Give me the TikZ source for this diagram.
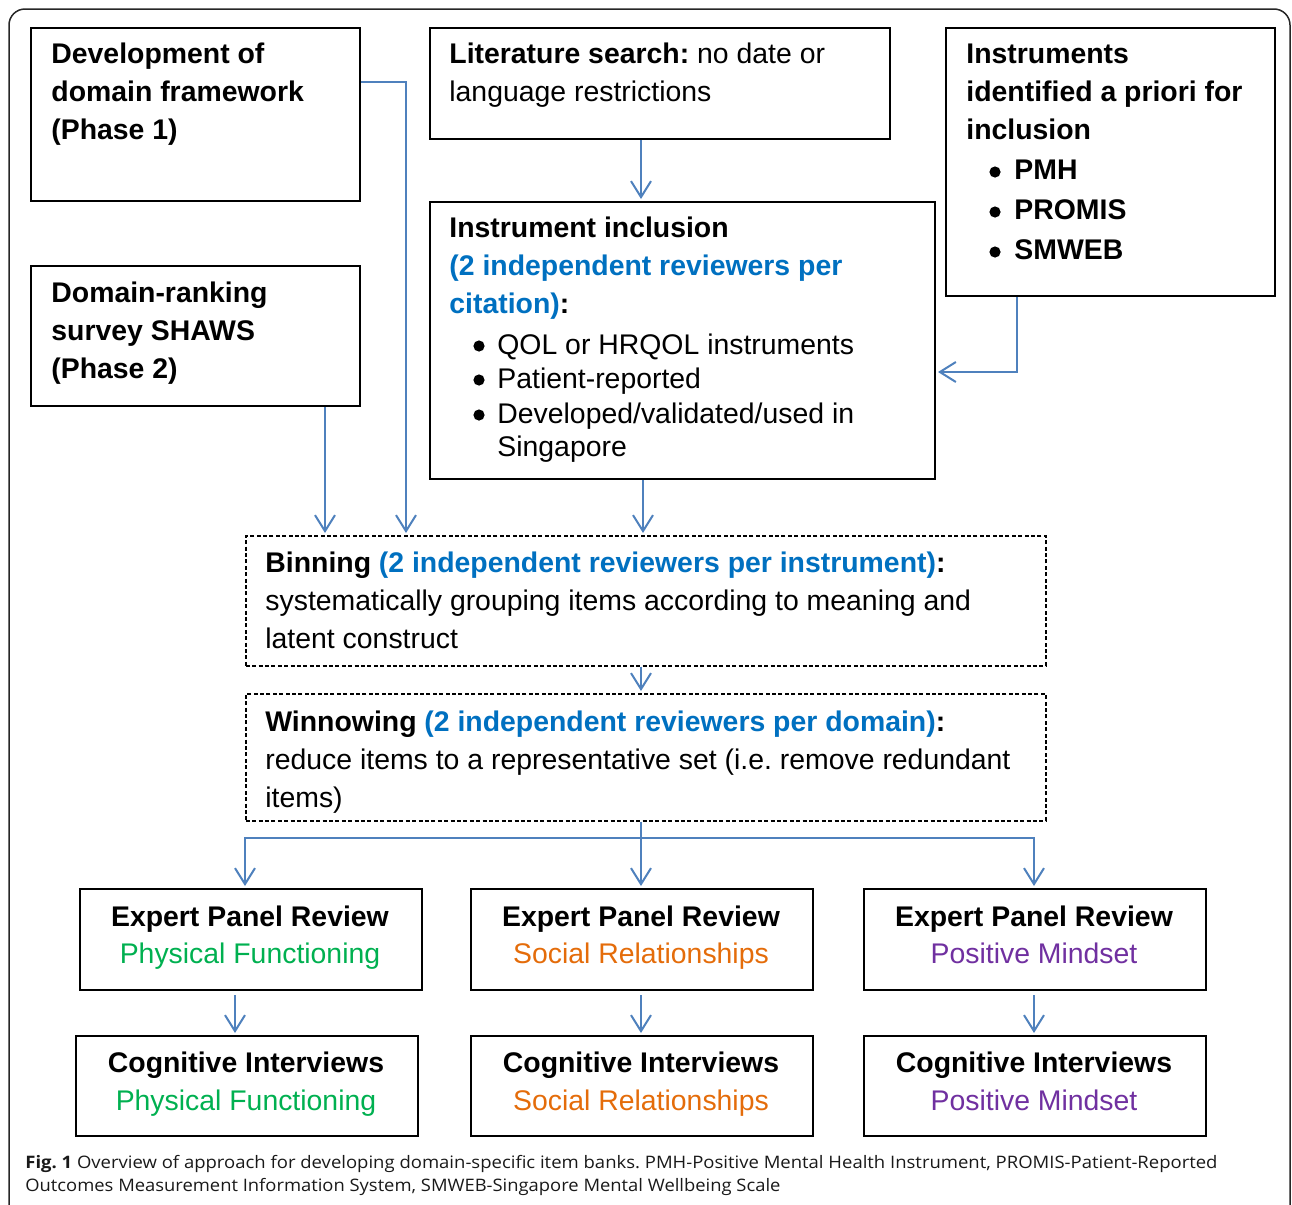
\documentclass[tikz,border=0pt]{standalone}
\usepackage{graphicx}
\usepackage{fontspec}
\setmainfont{Liberation Sans}
\newfontfamily\capfont{Open Sans}
\usetikzlibrary{arrows.meta}
\definecolor{arrblue}{HTML}{4F81BD}
\definecolor{tblue}{HTML}{0070C0}
\definecolor{tgreen}{HTML}{00B050}
\definecolor{torange}{HTML}{E46C0A}
\definecolor{tpurple}{HTML}{7030A0}
\frenchspacing
\newcommand\boxnode[6]{\node[#6, anchor=north west, minimum width={(#4-#2)*0.5pt}, minimum height={(#5-#3)*0.5pt}] (#1) at (#2,#3) {};}
\newcommand\bul{\hspace*{24pt}}
\tikzset{
  box/.style={draw=black, line width=1pt, inner sep=0pt, rectangle},
  dbox/.style={draw=black, line width=0.75pt, inner sep=0pt, rectangle, dash pattern=on 2pt off 1.2pt},
  conn/.style={draw=arrblue, line width=1pt},
  arr/.style={conn, -{Straight Barb[length=8pt,width=10pt,line width=1pt]}, shorten >=1pt},
  txt/.style={inner sep=0pt, align=left, anchor=north west, font=\fontsize{14.2}{19}\selectfont},
  ctxt/.style={txt, align=center, anchor=north},
  captxt/.style={inner sep=0pt, anchor=base west, font=\capfont\fontsize{8.6}{10}\selectfont, text=black!90},
  bulletdot/.style={fill=black}
}
\begin{document}
\begin{tikzpicture}[x=0.5pt,y=-0.5pt]
\useasboundingbox (0,0) rectangle (1292,1205);
\begin{scope}
\clip (0,0) rectangle (1292,1205);
\draw[line width=0.75pt, black!85, rounded corners=8pt] (9,9) rectangle (1290,1260);
\end{scope}

% boxes
\boxnode{dev}{30}{27}{359}{200}{box}
\boxnode{lit}{429}{27}{889}{138}{box}
\boxnode{apri}{945}{27}{1274}{295}{box}
\boxnode{rank}{30}{265}{359}{405}{box}
\boxnode{incl}{429}{201}{934}{478}{box}
\boxnode{bin}{245}{535}{1045}{665}{dbox}
\boxnode{win}{245}{693}{1045}{820}{dbox}
\boxnode{epra}{79}{888}{421}{989}{box}
\boxnode{eprb}{470}{888}{812}{989}{box}
\boxnode{eprc}{863}{888}{1205}{989}{box}
\boxnode{cia}{75}{1035}{417}{1135}{box}
\boxnode{cib}{470}{1035}{812}{1135}{box}
\boxnode{cic}{863}{1035}{1205}{1135}{box}

% texts
\node[txt] (devt) at (51,41) {\rule{0pt}{11pt}\textbf{Development of}\\\textbf{domain framework}\\\textbf{(Phase 1)}};
\node[txt] (litt) at (449,41) {\rule{0pt}{11pt}\textbf{Literature search:} no date or\\language restrictions};
\node[txt] (aprit) at (966,41) {\rule{0pt}{11pt}\textbf{Instruments}\\\textbf{identified a priori for}\\\textbf{inclusion}\\[1pt]\bul\textbf{PMH}\\[1pt]\bul\textbf{PROMIS}\\[1pt]\bul\textbf{SMWEB}};
\node[txt] (rankt) at (51,280) {\rule{0pt}{11pt}\textbf{Domain-ranking}\\\textbf{survey SHAWS}\\\textbf{(Phase 2)}};
\node[txt] (inclt) at (449,215) {\rule{0pt}{11pt}\textbf{Instrument inclusion}\\\textbf{\color{tblue}(2 independent reviewers per}\\\textbf{{\color{tblue}citation)}:}\\[1.5pt]\bul QOL or HRQOL instruments\\[-2pt]\bul Patient-reported\\[-1.5pt]\bul Developed/validated/used in\\[-2.5pt]\bul Singapore};
\node[txt] (bint) at (265,550) {\rule{0pt}{11pt}\textbf{Binning {\color{tblue}(2 independent reviewers per instrument)}:}\\systematically grouping items according to meaning and\\latent construct};
\node[txt] (wint) at (265,709) {\rule{0pt}{11pt}\textbf{Winnowing {\color{tblue}(2 independent reviewers per domain)}:}\\reduce items to a representative set (i.e. remove redundant\\items)};

% bullet dots
\fill[bulletdot] (995,172) circle[radius=5.6];
\fill[bulletdot] (995,212) circle[radius=5.6];
\fill[bulletdot] (995,252) circle[radius=5.6];
\fill[bulletdot] (479,346) circle[radius=5.6];
\fill[bulletdot] (479,380) circle[radius=5.6];
\fill[bulletdot] (479,415) circle[radius=5.6];

\node[ctxt] (eprat) at (250,904) {\rule{0pt}{11pt}\textbf{Expert Panel Review}\\[-0.5pt]{\color{tgreen}Physical Functioning}};
\node[ctxt] (eprbt) at (641,904) {\rule{0pt}{11pt}\textbf{Expert Panel Review}\\[-0.5pt]{\color{torange}Social Relationships}};
\node[ctxt] (eprct) at (1034,904) {\rule{0pt}{11pt}\textbf{Expert Panel Review}\\[-0.5pt]{\color{tpurple}Positive Mindset}};
\node[ctxt] (ciat) at (246,1050) {\rule{0pt}{11pt}\textbf{Cognitive Interviews}\\{\color{tgreen}Physical Functioning}};
\node[ctxt] (cibt) at (641,1050) {\rule{0pt}{11pt}\textbf{Cognitive Interviews}\\{\color{torange}Social Relationships}};
\node[ctxt] (cict) at (1034,1050) {\rule{0pt}{11pt}\textbf{Cognitive Interviews}\\{\color{tpurple}Positive Mindset}};

% connectors
\draw[arr] (dev.east |- 0,82) -| (406,0 |- bin.north);
\draw[arr] (rank.south -| 325,0) -- (325,0 |- bin.north);
\draw[arr] (lit.south -| 641,0) -- (641,0 |- incl.north);
\draw[arr] (apri.south -| 1017,0) |- (incl.east |- 0,372);
\draw[arr] (incl.south -| 643,0) -- (643,0 |- bin.north);
\draw[arr] (bin.south -| 641,0) -- (641,0 |- win.north);
\coordinate (split) at (641,838);
\draw[conn] (win.south -| split) -- (split);
\draw[arr] (split) -| (epra.north -| 245,0);
\draw[arr] (split) -- (eprb.north -| split);
\draw[arr] (split) -| (eprc.north -| 1034,0);
\draw[arr] ([yshift=-2pt]epra.south -| 235,0) -- (cia.north -| 235,0);
\draw[arr] ([yshift=-2pt]eprb.south -| 641,0) -- (cib.north -| 641,0);
\draw[arr] ([yshift=-2pt]eprc.south -| 1034,0) -- (cic.north -| 1034,0);

% caption
\node[captxt] (cap1) at (25,1168) {\resizebox{596pt}{\height}{\textbf{Fig. 1} Overview of approach for developing domain-specific item banks. PMH-Positive Mental Health Instrument, PROMIS-Patient-Reported}};
\node[captxt] (cap2) at (25,1191) {\resizebox{377.5pt}{\height}{Outcomes Measurement Information System, SMWEB-Singapore Mental Wellbeing Scale}};
\end{tikzpicture}
\end{document}
